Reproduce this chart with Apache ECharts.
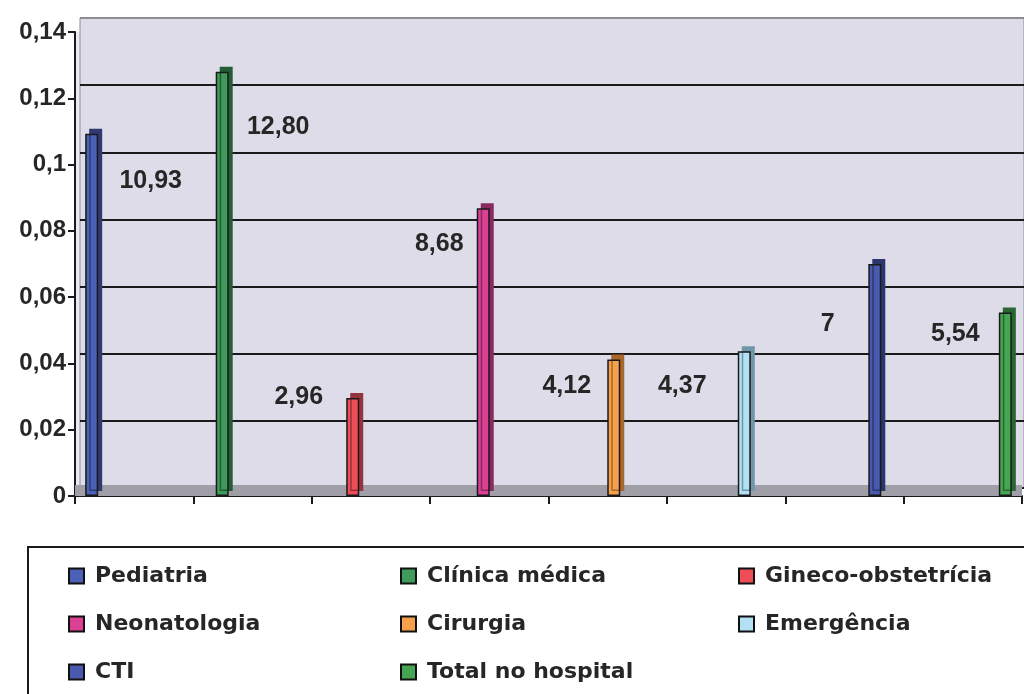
<!DOCTYPE html>
<html>
<head>
<meta charset="utf-8">
<script src="https://cdn.jsdelivr.net/npm/echarts@6/dist/echarts.min.js"></script>
<style>
  html, body { margin: 0; padding: 0; background: #fff; }
  #chart { width: 1024px; height: 694px; }
</style>
</head>
<body>
<div id="chart"></div>
<script>
// Units and their rates (bar heights), with the printed labels
const units = ['Pediatria', 'Clínica médica', 'Gineco-obstetrícia', 'Neonatologia', 'Cirurgia', 'Emergência', 'CTI', 'Total no hospital'];
const rates = [0.1093, 0.128, 0.0296, 0.0868, 0.0412, 0.0437, 0.07, 0.0554];
const rateLabels = ['10,93', '12,80', '2,96', '8,68', '4,12', '4,37', '7', '5,54'];
const xTickSlots = ['', '', '', '', '', '', '', ''];

// styling per unit
const frontColors = ['#4b61b6', '#3f9a5c', '#ee4c57', '#dc3f93', '#f6a04e', '#b3e1f4', '#4859ae', '#45a652'];
const sideColors = ['#2f3b70', '#245c37', '#96343b', '#8c2960', '#a8672b', '#6f97aa', '#2c366c', '#2a6632'];
const labelShift = [[59, 65], [56, 73], [-54, 17], [-44, 53], [-47, 44], [-62, 52], [-47, 78], [-50, 39]];

const chart = echarts.init(document.getElementById('chart'));

const textDark = '#262626';

const series = units.map((name, i) => ({
    name: name,
    type: 'bar',
    xAxisIndex: 0,
    yAxisIndex: 0,
    barWidth: 13,
    barGap: '904%',
    data: [rates[i]],
    itemStyle: {
        color: frontColors[i],
        borderColor: '#1a1a1a',
        borderWidth: 1.5,
        // fake 3D depth: dark copy pushed up and right
        shadowColor: sideColors[i],
        shadowOffsetX: 4,
        shadowOffsetY: -5,
        shadowBlur: 0
    },
    label: {
        show: true,
        position: 'top',
        offset: labelShift[i],
        formatter: () => rateLabels[i],
        fontFamily: 'Liberation Sans',
        fontWeight: 'bold',
        fontSize: 25,
        color: textDark,
        textShadowColor: 'transparent'
    },
    emphasis: { disabled: true },
    z: 3
}));

// grey floor of the 3D plot
series[0].markArea = {
    silent: true,
    itemStyle: { color: '#a09ea7' },
    data: [[{ yAxis: 0 }, { yAxis: 0.0033 }]]
};

const legendFont = {
    fontFamily: 'DejaVu Sans',
    fontWeight: 'bold',
    fontSize: 22,
    lineHeight: 22,
    color: textDark,
    padding: [0, 0, 0, 6]
};

function legendColumn(names, left) {
    return {
        orient: 'vertical',
        left: left,
        top: 565,
        padding: 0,
        itemGap: 26,
        itemWidth: 15,
        itemHeight: 15,
        icon: 'rect',
        selectedMode: false,
        textStyle: legendFont,
        itemStyle: { borderColor: '#111', borderWidth: 2 },
        data: names.map(n => ({ name: n, itemStyle: { color: frontColors[units.indexOf(n)] } }))
    };
}

const option = {
    animation: false,
    backgroundColor: '#ffffff',
    graphic: [{
        type: 'rect',
        z: -10,
        shape: { x: 28, y: 547, width: 1100, height: 200 },
        style: { fill: '#ffffff', stroke: '#1a1a1a', lineWidth: 2 }
    }],
    legend: [
        legendColumn(['Pediatria', 'Neonatologia', 'CTI'], 68),
        legendColumn(['Clínica médica', 'Cirurgia', 'Total no hospital'], 400),
        legendColumn(['Gineco-obstetrícia', 'Emergência'], 738)
    ],
    grid: [
        // front plane: bars and axes
        { left: 75, right: 2, top: 32, bottom: 198, show: true, backgroundColor: '#ebeaf1', borderWidth: 0 },
        // back wall with gridlines
        { left: 80, right: 0, top: 18, bottom: 206, show: true, backgroundColor: '#dedce8', borderColor: '#8d8c96', borderWidth: 1 }
    ],
    xAxis: [
        {
            type: 'category', gridIndex: 0, position: 'bottom', data: [''],
            axisLine: { show: true, lineStyle: { color: '#1a1a1a', width: 2 } },
            axisTick: { show: false },
            axisLabel: { show: false },
            splitLine: { show: false }
        },
        {
            type: 'category', gridIndex: 0, position: 'bottom', data: xTickSlots,
            axisLine: { show: false },
            axisTick: { show: true, length: 8, lineStyle: { color: '#1a1a1a', width: 2 } },
            axisLabel: { show: false },
            splitLine: { show: false }
        },
        {
            type: 'category', gridIndex: 1, data: [''],
            show: false
        }
    ],
    yAxis: [
        {
            type: 'value', gridIndex: 0, min: 0, max: 0.14, interval: 0.02,
            axisLine: { show: true, lineStyle: { color: '#1a1a1a', width: 2 } },
            axisTick: { show: true, length: 7, lineStyle: { color: '#1a1a1a', width: 2 } },
            axisLabel: {
                margin: 9,
                fontFamily: 'Liberation Sans',
                fontWeight: 'bold',
                fontSize: 24,
                color: textDark,
                formatter: v => String(v).replace('.', ',')
            },
            splitLine: { show: false }
        },
        {
            type: 'value', gridIndex: 1, min: 0, max: 0.14, interval: 0.02,
            axisLine: { show: false },
            axisTick: { show: false },
            axisLabel: { show: false },
            splitLine: {
                show: true,
                lineStyle: {
                    color: ['#1a1a1a', '#1a1a1a', '#1a1a1a', '#1a1a1a', '#1a1a1a', '#1a1a1a', '#1a1a1a', '#8d8c96'],
                    width: 2
                }
            }
        }
    ],
    series: series
};

chart.setOption(option);
</script>
</body>
</html>
